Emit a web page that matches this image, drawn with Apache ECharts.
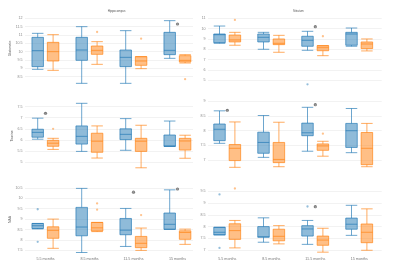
<!DOCTYPE html>
<html>
<head>
<meta charset="utf-8">
<script src="https://cdn.jsdelivr.net/npm/echarts@6/dist/echarts.min.js"></script>
<style>
  html, body { margin: 0; padding: 0; background: #fff; }
  #chart { width: 400px; height: 273px; }
</style>
</head>
<body>
<div id="chart"></div>
<script>
// categories and panel names
var categories = ['5.5 months', '8.5 months', '11.5 months', '15 months'];
var regions = ['Hippocampus', 'Striatum'];
var metabolites = ['Glutamate', 'Taurine', 'NAA'];

// boxes: [lower whisker, Q1, median, Q3, upper whisker] per category
var hipGluBlue   = [[8.94, 9.10, 10.06, 10.86, 11.10], [8.10, 9.48, 10.10, 10.86, 11.50], [8.10, 9.10, 9.66, 10.10, 11.26], [9.60, 9.82, 10.08, 11.16, 11.86]];
var hipGluOrange = [[8.88, 9.44, 10.00, 10.56, 11.02], [9.24, 9.84, 10.08, 10.34, 10.60], [8.98, 9.18, 9.44, 9.70, 9.70], [9.32, 9.38, 9.48, 9.76, 9.82]];
var strGluBlue   = [[8.58, 8.64, 9.41, 9.48, 10.25], [8.00, 8.71, 9.16, 9.48, 9.64], [7.90, 8.29, 8.87, 9.26, 9.74], [8.29, 8.39, 9.48, 9.64, 10.06]];
var strGluOrange = [[8.39, 8.71, 8.90, 9.38, 9.64], [7.71, 8.45, 8.58, 9.00, 9.35], [7.38, 7.86, 8.15, 8.35, 8.35], [7.84, 8.06, 8.51, 8.71, 9.00]];
var hipTauBlue   = [[6.03, 6.12, 6.34, 6.48, 6.98], [5.48, 5.81, 6.16, 6.63, 7.65], [5.53, 6.01, 6.25, 6.50, 6.96], [5.71, 5.71, 5.72, 6.22, 6.85]];
var hipTauOrange = [[5.57, 5.71, 5.85, 5.98, 6.07], [5.18, 5.44, 5.94, 6.30, 6.63], [4.74, 5.48, 5.94, 6.07, 6.66], [5.17, 5.54, 5.95, 6.07, 6.21]];
var strTauBlue   = [[7.57, 7.66, 8.05, 8.23, 8.68], [7.09, 7.23, 7.60, 7.95, 8.52], [7.30, 7.83, 7.93, 8.26, 8.80], [7.25, 7.43, 8.00, 8.25, 8.76]];
var strTauOrange = [[6.75, 6.98, 7.40, 7.53, 8.30], [6.77, 6.91, 7.02, 7.60, 8.29], [7.13, 7.33, 7.48, 7.55, 7.64], [6.77, 6.84, 7.40, 7.94, 8.25]];
var hipNaaBlue   = [[8.53, 8.55, 8.68, 8.79, 8.79], [7.40, 8.20, 8.62, 9.56, 10.47], [7.69, 8.25, 8.47, 9.03, 9.51], [8.51, 8.51, 8.75, 9.29, 10.40]];
var hipNaaOrange = [[7.60, 8.08, 8.46, 8.63, 9.00], [8.40, 8.43, 8.58, 8.84, 8.84], [7.50, 7.63, 7.84, 8.17, 8.57], [7.79, 8.03, 8.36, 8.44, 8.52]];
var strNaaBlue   = [[7.65, 7.65, 7.76, 7.97, 7.97], [7.34, 7.55, 7.57, 8.00, 8.37], [7.25, 7.60, 7.90, 8.04, 8.26], [7.63, 7.89, 8.10, 8.36, 8.90]];
var strNaaOrange = [[7.10, 7.46, 7.83, 8.12, 8.26], [7.27, 7.40, 7.59, 7.89, 8.04], [6.92, 7.21, 7.43, 7.60, 7.93], [7.00, 7.32, 7.76, 8.11, 8.75]];

// outliers: [category index, value]
var hipGluBlueOut = [];
var hipGluOrangeOut = [[1, 11.18], [2, 10.78], [3, 8.35]];
var strGluBlueOut = [[2, 4.61]];
var strGluOrangeOut = [[0, 10.84], [2, 9.26]];
var hipTauBlueOut = [];
var hipTauOrangeOut = [[0, 6.50]];
var strTauBlueOut = [];
var strTauOrangeOut = [[2, 7.90]];
var hipNaaBlueOut = [[0, 9.47], [0, 7.91]];
var hipNaaOrangeOut = [[1, 9.75], [1, 9.45], [2, 9.19]];
var strNaaBlueOut = [[0, 9.36], [0, 7.10], [2, 8.85]];
var strNaaOrangeOut = [[0, 9.61]];

// significance stars: [category index, value]
var hipGluStars = [[3, 11.66]];
var strGluStars = [[2, 10.19]];
var hipTauStars = [[0, 7.20]];
var strTauStars = [[0, 8.70], [2, 8.89]];
var hipNaaStars = [[2, 10.29], [3, 10.44]];
var strNaaStars = [[2, 8.84]];

// y axis: [min, max, tick step]
var hipGluAxis = [8.0, 12.38, 0.5];
var strGluAxis = [4.54, 11.61, 1];
var hipTauAxis = [4.55, 7.80, 0.5];
var strTauAxis = [6.59, 9.05, 0.5];
var hipNaaAxis = [7.28, 10.68, 0.5];
var strNaaAxis = [6.80, 9.80, 0.5];

var panels = [
  [0, 0, hipGluBlue, hipGluOrange, hipGluBlueOut, hipGluOrangeOut, hipGluStars, hipGluAxis],
  [0, 1, strGluBlue, strGluOrange, strGluBlueOut, strGluOrangeOut, strGluStars, strGluAxis],
  [1, 0, hipTauBlue, hipTauOrange, hipTauBlueOut, hipTauOrangeOut, hipTauStars, hipTauAxis],
  [1, 1, strTauBlue, strTauOrange, strTauBlueOut, strTauOrangeOut, strTauStars, strTauAxis],
  [2, 0, hipNaaBlue, hipNaaOrange, hipNaaBlueOut, hipNaaOrangeOut, hipNaaStars, hipNaaAxis],
  [2, 1, strNaaBlue, strNaaOrange, strNaaBlueOut, strNaaOrangeOut, strNaaStars, strNaaAxis]
];

var FONT = 'Liberation Sans';
var rowTop = [12, 100, 184];
var rowH = [73, 72, 71];
var frameCol = [{ left: 25, width: 168 }, { left: 208, width: 173.7 }];
var centerLeft = [23.5, 205.3];
var bandTotal = 176;
var shift = [-7.8, 7.6];
var colors = [[31, 119, 180], [255, 127, 14]];
function rgba(c, a) { return 'rgba(' + c[0] + ',' + c[1] + ',' + c[2] + ',' + a + ')'; }

var grids = [], xAxes = [], yAxes = [], series = [];

panels.forEach(function (p) {
  var row = p[0], col = p[1], ax = p[7];
  var top = rowTop[row], h = rowH[row];
  function addGrid(left, width) {
    grids.push({ left: left, top: top, width: width, height: h, outerBoundsMode: 'none' });
    return grids.length - 1;
  }
  // frame grid: y labels and grid lines
  var gf = addGrid(frameCol[col].left, frameCol[col].width);
  xAxes.push({ type: 'category', gridIndex: gf, data: categories, show: false });
  yAxes.push({
    type: 'value', gridIndex: gf, min: ax[0], max: ax[1], minInterval: ax[2], maxInterval: ax[2],
    axisLine: { show: false }, axisTick: { show: false },
    axisLabel: { fontSize: 3.6, color: '#888', margin: 2.5, fontFamily: FONT, showMinLabel: false, showMaxLabel: false },
    splitLine: { showMinLine: false, showMaxLine: false, lineStyle: { color: '#efefef', width: 0.8 } },
    name: col === 0 ? metabolites[row] : '', nameLocation: 'middle', nameGap: 10.5,
    nameTextStyle: { fontSize: 3.4, color: '#666', fontFamily: FONT }
  });
  // center grid: month labels and stars
  var gc = addGrid(centerLeft[col], bandTotal);
  xAxes.push({
    type: 'category', gridIndex: gc, data: categories, boundaryGap: true,
    axisLine: { show: false }, axisTick: { show: false }, splitLine: { show: false },
    axisLabel: { show: row === 2, fontSize: 3.7, color: '#777', margin: 1.5, fontFamily: FONT }
  });
  yAxes.push({ type: 'value', gridIndex: gc, min: ax[0], max: ax[1], show: false, splitLine: { show: false } });
  series.push({
    type: 'scatter', xAxisIndex: xAxes.length - 1, yAxisIndex: yAxes.length - 1,
    data: p[6], symbolSize: 3.2, silent: true, z: 5,
    itemStyle: { color: '#555' },
    label: { show: true, formatter: '*', position: 'inside', fontSize: 6, fontWeight: 'bold', color: '#aaa', offset: [0, 1.6], fontFamily: FONT }
  });
  // blue and orange shifted grids for boxes
  [0, 1].forEach(function (k) {
    var g = addGrid(centerLeft[col] + shift[k], bandTotal);
    xAxes.push({ type: 'category', gridIndex: g, data: categories, show: false });
    yAxes.push({ type: 'value', gridIndex: g, min: ax[0], max: ax[1], show: false, splitLine: { show: false } });
    series.push({
      type: 'boxplot', xAxisIndex: xAxes.length - 1, yAxisIndex: yAxes.length - 1,
      data: p[2 + k], boxWidth: [11.5, 11.5], silent: true,
      itemStyle: { color: rgba(colors[k], 0.5), borderColor: rgba(colors[k], 0.65), borderWidth: 1 }
    });
    series.push({
      type: 'scatter', xAxisIndex: xAxes.length - 1, yAxisIndex: yAxes.length - 1,
      data: p[4 + k], symbolSize: 2.3, silent: true,
      itemStyle: { color: rgba(colors[k], 0.6) }
    });
  });
});

var chart = echarts.init(document.getElementById('chart'), null, { renderer: 'canvas' });
chart.setOption({
  animation: false,
  title: regions.map(function (r, i) {
    return {
      text: r, left: centerLeft[i] + bandTotal / 2, top: 4.5, textAlign: 'center',
      textStyle: { fontSize: 2.9, fontWeight: 'normal', color: '#555', fontFamily: FONT }
    };
  }),
  grid: grids,
  xAxis: xAxes,
  yAxis: yAxes,
  series: series
});
</script>
</body>
</html>
